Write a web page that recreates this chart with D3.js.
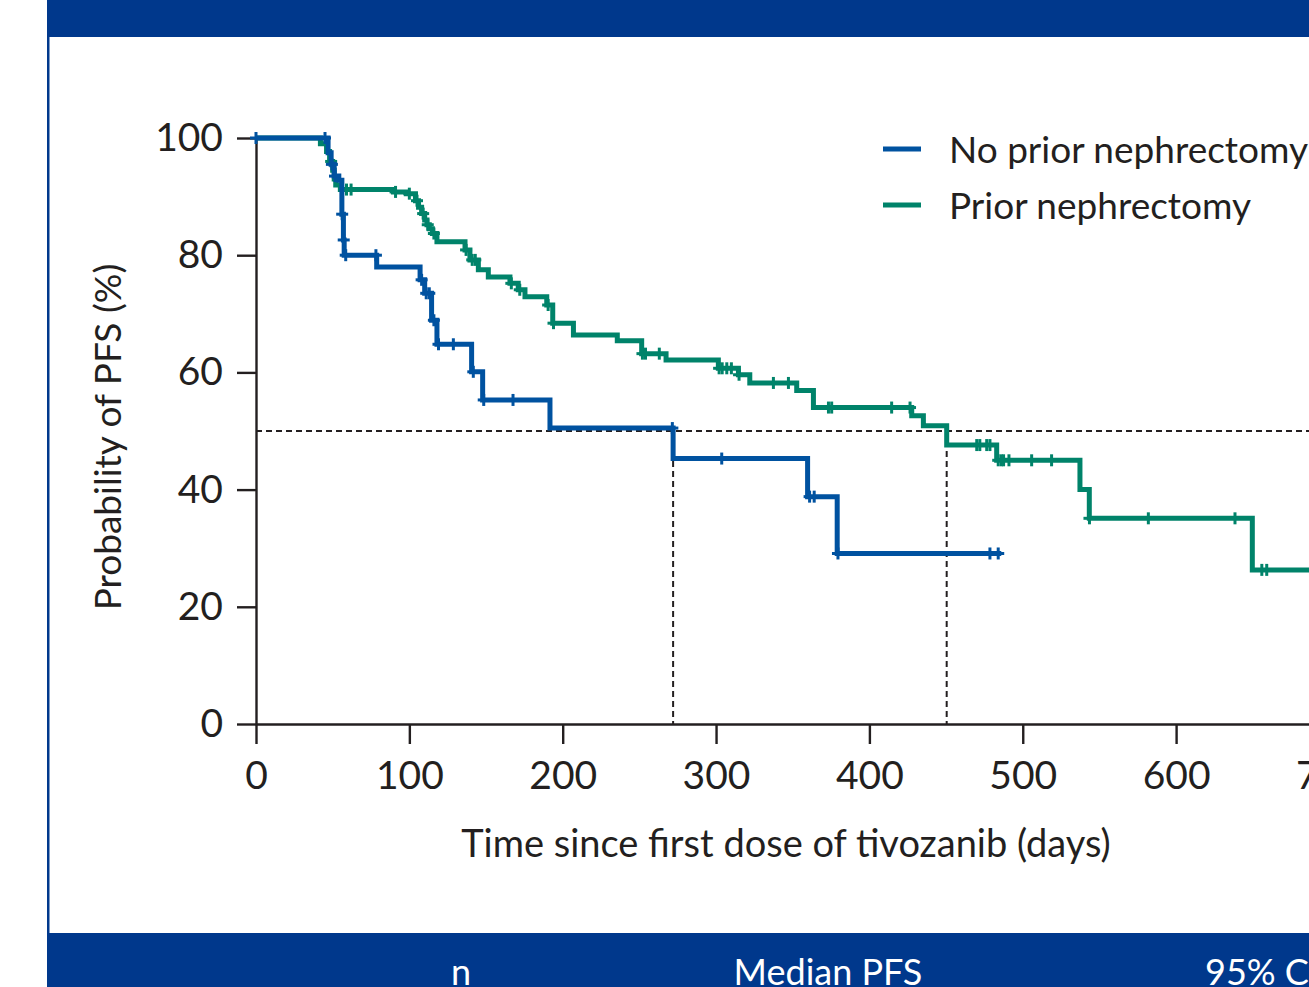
<!DOCTYPE html>
<html>
<head>
<meta charset="utf-8">
<script src="https://cdn.jsdelivr.net/npm/d3@7"></script>
<style>
  body { margin: 0; background: #fff; }
  svg { display: block; }
  text { font-family: Lato, "Noto Sans", sans-serif; fill: #231f20; }
</style>
</head>
<body>
<div id="chart"></div>
<script>
// Kaplan-Meier curves (days, % PFS after each step)
var noPriorTimes = [0, 47, 49, 51, 54, 56, 57, 57.5, 78.7, 107, 110, 114.5, 118, 140.6, 147.8, 191.7, 272, 359.7, 379, 486];
var noPriorSurv  = [100, 97.5, 95.5, 93.5, 92.8, 87, 82.6, 80, 78, 75.8, 73.5, 68.9, 64.8, 60.1, 55.3, 50.5, 45.3, 38.8, 29.1, 29.1];
var noPriorCensor = [0, 45, 49.5, 51.5, 56.2, 57.2, 58.5, 78.2, 108, 111, 113, 116, 119, 128.7, 141.7, 148.5, 167.6, 271.5, 303.7, 361, 364, 379.5, 478.6, 484];

var priorTimes = [0, 42, 46, 48, 50, 51, 52, 55, 89.6, 98, 104, 106, 108, 110, 111.5, 113, 115, 118, 136.3, 139.5, 145, 151.5, 165.6, 171, 175.4, 189.6, 193.5, 207, 235.6, 251.5, 267.4, 301.5, 314.6, 322, 352.6, 363.5, 427.6, 435.2, 450.4, 483, 537.3, 543.4, 649.7, 720];
var priorSurv  = [100, 99, 97.7, 96, 94.5, 93, 92, 91.2, 90.8, 90.5, 89.3, 88.2, 87.1, 86, 85.2, 84.5, 83.7, 82.3, 80.9, 79.2, 77.5, 76.3, 75.2, 74.1, 72.9, 71.5, 68.4, 66.4, 65.4, 63.2, 62.1, 60.7, 59.6, 58.2, 56.9, 54.0, 52.6, 50.9, 47.6, 45.0, 40.0, 35.1, 26.3, 26.3];
var priorCensor = [49, 59, 62, 91, 100, 105, 109, 112, 116, 137, 141, 143, 166.5, 172, 190.5, 194, 252, 254, 263, 302, 304, 307, 310, 315, 337.4, 347.2, 373.3, 375.4, 414.5, 426.5, 470, 472, 476.5, 478.6, 484, 486, 487.5, 491, 505.8, 518.8, 543.5, 581.9, 638.4, 655.9, 659.1, 700];

var medianDays = [272, 450.4];
var xTicks = [0, 100, 200, 300, 400, 500, 600, 700];
var yTicks = [0, 20, 40, 60, 80, 100];
var seriesNames = ["No prior nephrectomy", "Prior nephrectomy"];
var tableHeads = ["n", "Median PFS", "95% CI"];

var width = 1309, height = 987;
var banner = "#00388c", blue = "#0052a0", green = "#00836a", ink = "#231f20";

var svg = d3.select("#chart").append("svg")
  .attr("width", width).attr("height", height);

// frame: top banner, left rule, bottom table header
svg.append("rect").attr("x", 47).attr("y", 0).attr("width", width - 47).attr("height", 37).attr("fill", banner);
svg.append("rect").attr("x", 47).attr("y", 37).attr("width", 2.5).attr("height", 896).attr("fill", banner);
svg.append("rect").attr("x", 47).attr("y", 933).attr("width", width - 47).attr("height", 60).attr("fill", banner);

// table header row, cut by the bottom edge as in the source figure
var headX = [461, 828, 1262];
svg.selectAll("text.head").data(tableHeads).enter().append("text")
  .attr("class", "head")
  .attr("x", function(d, i) { return headX[i]; })
  .attr("y", 985)
  .attr("text-anchor", "middle")
  .style("fill", "#fff")
  .style("font-size", "36px")
  .text(function(d) { return d; });

var x = d3.scaleLinear().domain([0, 700]).range([256, 256 + 700 * 1.5335]);
var y = d3.scaleLinear().domain([0, 100]).range([724, 138]);

// axes
var xAxis = svg.append("g").attr("transform", "translate(0," + y(0) + ")")
  .call(d3.axisBottom(x).tickValues(xTicks).tickSize(20).tickSizeOuter(0).tickPadding(17));
var yAxis = svg.append("g").attr("transform", "translate(" + x(0) + ",0)")
  .call(d3.axisLeft(y).tickValues(yTicks).tickSize(19).tickSizeOuter(0).tickPadding(14));
[xAxis, yAxis].forEach(function(g) {
  g.select(".domain").attr("stroke", ink).attr("stroke-width", 2.4);
  g.selectAll(".tick line").attr("stroke", ink).attr("stroke-width", 2.4);
  g.selectAll(".tick text").style("font-size", "39px").style("font-family", "Lato, sans-serif").attr("fill", ink);
});

svg.append("text")
  .attr("x", 786).attr("y", 857)
  .attr("text-anchor", "middle")
  .style("font-size", "38px")
  .text("Time since first dose of tivozanib (days)");

svg.append("text")
  .attr("transform", "translate(121,437) rotate(-90)")
  .attr("text-anchor", "middle")
  .style("font-size", "37px")
  .text("Probability of PFS (%)");

// median reference lines
svg.append("line")
  .attr("x1", x(0)).attr("x2", x(700)).attr("y1", y(50)).attr("y2", y(50))
  .attr("stroke", ink).attr("stroke-width", 2).attr("stroke-dasharray", "6,4");
svg.selectAll("line.median").data(medianDays).enter().append("line")
  .attr("class", "median")
  .attr("x1", function(d) { return x(d); }).attr("x2", function(d) { return x(d); })
  .attr("y1", y(50)).attr("y2", y(0))
  .attr("stroke", ink).attr("stroke-width", 2).attr("stroke-dasharray", "6,4");

// KM curves
var line = d3.line().x(function(d) { return x(d[0]); }).y(function(d) { return y(d[1]); }).curve(d3.curveStepAfter);

function survAt(times, surv, t) {
  var s = surv[0];
  for (var i = 0; i < times.length; i++) { if (times[i] <= t) s = surv[i]; }
  return s;
}

function drawCurve(times, surv, censor, color) {
  var pts = times.map(function(t, i) { return [t, surv[i]]; });
  svg.append("path").datum(pts)
    .attr("d", line)
    .attr("fill", "none").attr("stroke", color).attr("stroke-width", 5)
    .attr("stroke-linejoin", "miter");
  var g = svg.append("g").attr("stroke", color).attr("stroke-width", 3);
  censor.forEach(function(c) {
    var cx = x(c), cy = y(survAt(times, surv, c));
    g.append("line").attr("x1", cx - 6).attr("x2", cx + 6).attr("y1", cy).attr("y2", cy);
    g.append("line").attr("x1", cx).attr("x2", cx).attr("y1", cy - 6).attr("y2", cy + 6);
  });
}

drawCurve(priorTimes, priorSurv, priorCensor, green);
drawCurve(noPriorTimes, noPriorSurv, noPriorCensor, blue);

// legend
var legendColors = [blue, green];
var legend = svg.selectAll("g.legend").data(seriesNames).enter().append("g")
  .attr("class", "legend")
  .attr("transform", function(d, i) { return "translate(883," + (149 + i * 56) + ")"; });
legend.append("line").attr("x1", 0).attr("x2", 38).attr("y1", 0).attr("y2", 0)
  .attr("stroke", function(d, i) { return legendColors[i]; }).attr("stroke-width", 5);
legend.append("text").attr("x", 66).attr("y", 14)
  .style("font-size", "37px")
  .text(function(d) { return d; });
</script>
</body>
</html>
